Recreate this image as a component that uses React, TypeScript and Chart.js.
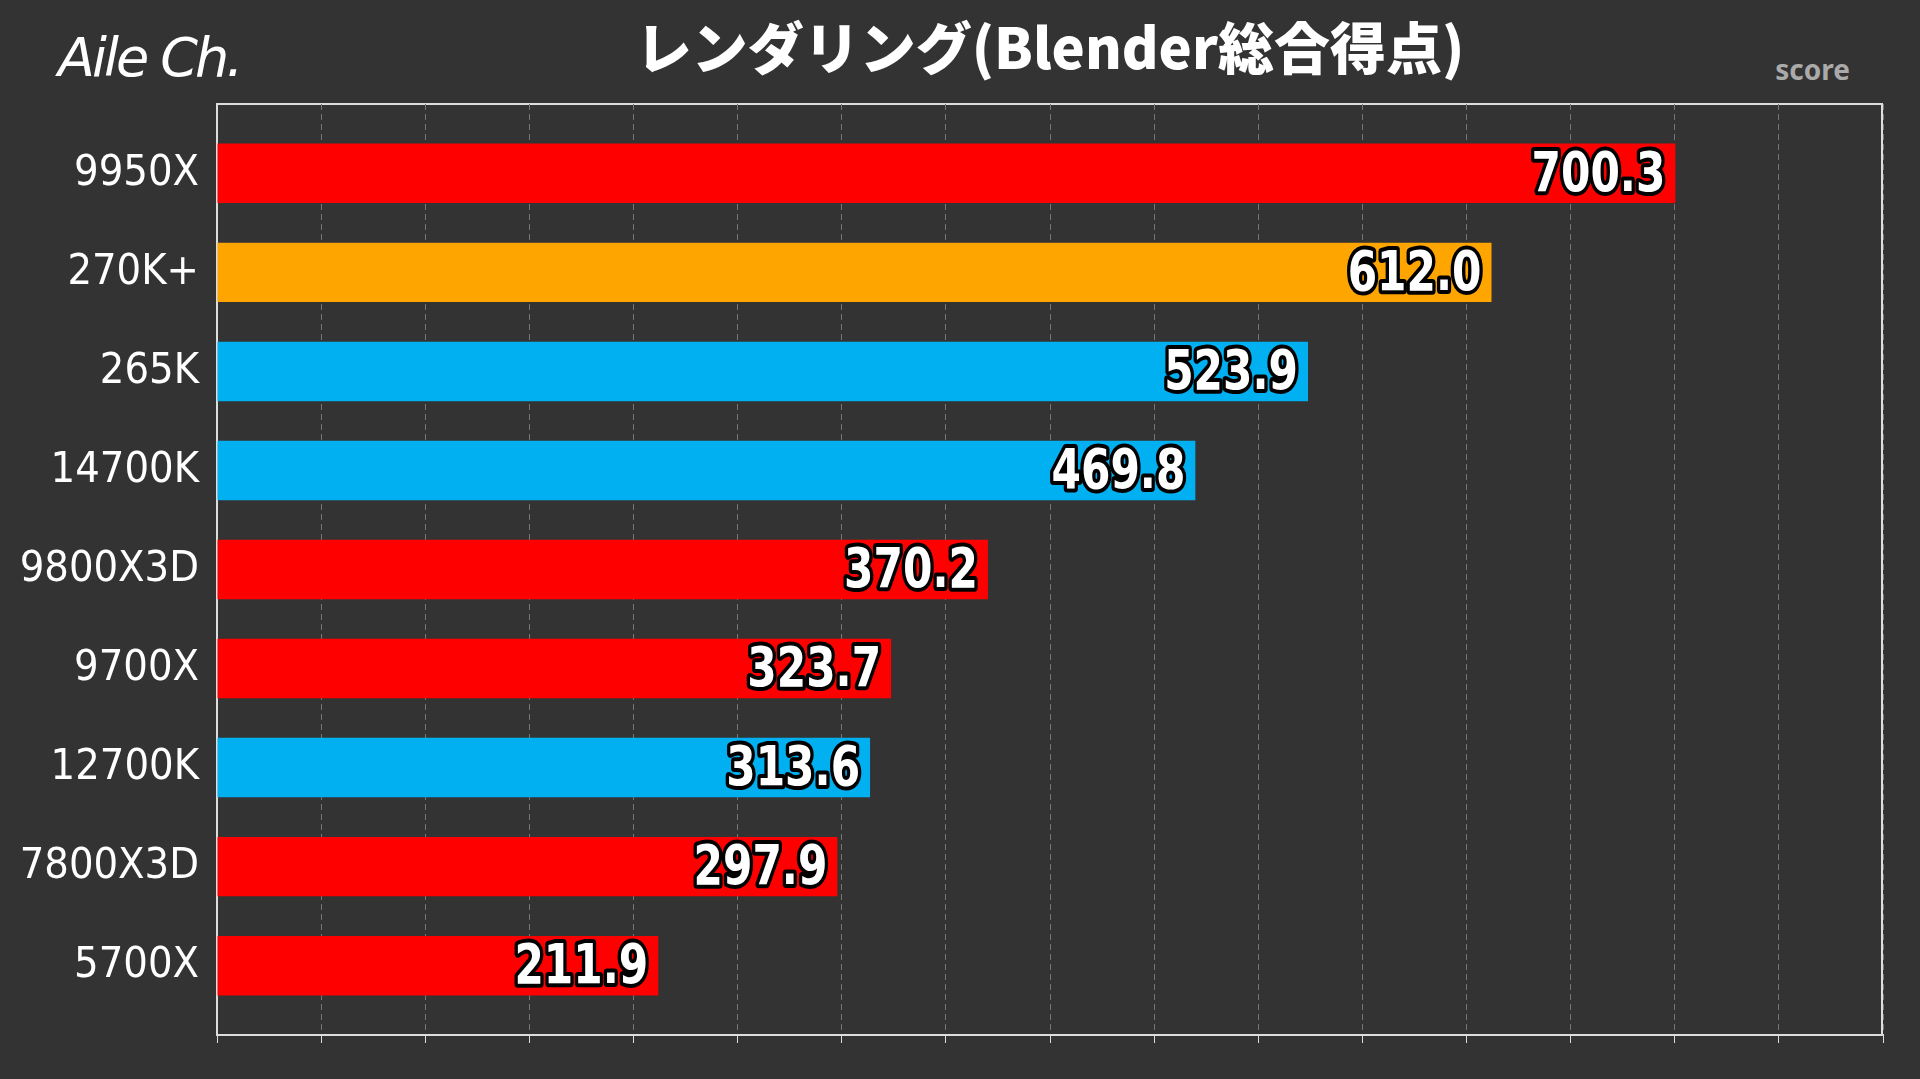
import React, { useEffect, useRef } from "react";
import { Chart, registerables } from "chart.js";
Chart.register(...registerables);

const categories = ["9950X", "270K+", "265K", "14700K", "9800X3D", "9700X", "12700K", "7800X3D", "5700X"];
const values = [700.3, 612.0, 523.9, 469.8, 370.2, 323.7, 313.6, 297.9, 211.9];
const colors = ["#ff0000", "#ffa500", "#00b0f0", "#00b0f0", "#ff0000", "#ff0000", "#00b0f0", "#ff0000", "#ff0000"];
const xMax = 800;
const xStep = 50;

const valueLabels = {
  id: "valueLabels",
  afterDatasetsDraw(chart: any) {
    const ctx = chart.ctx;
    const meta = chart.getDatasetMeta(0);
    ctx.save();
    ctx.font = "bold 56px 'DejaVu Sans Condensed', 'DejaVu Sans'";
    ctx.textAlign = "right";
    ctx.textBaseline = "middle";
    ctx.lineJoin = "round";
    meta.data.forEach((bar: any, i: number) => {
      const t = values[i].toFixed(1);
      ctx.save();
      ctx.translate(bar.x - 10, bar.y + 3);
      ctx.scale(0.84, 1);
      ctx.lineWidth = 8;
      ctx.strokeStyle = "#000";
      ctx.strokeText(t, 0, 0);
      ctx.fillStyle = "#fff";
      ctx.fillText(t, 0, 0);
      ctx.restore();
    });
    ctx.restore();
  },
};

export default function App() {
  const ref = useRef<HTMLCanvasElement>(null);
  useEffect(() => {
    const chart = new Chart(ref.current!, {
      type: "bar",
      data: {
        datasets: [{
          data: values.map((v, i) => ({ x: v, y: i })),
          backgroundColor: colors, barPercentage: 0.6, categoryPercentage: 1,
        }],
      },
      plugins: [valueLabels],
      options: {
        indexAxis: "y",
        animation: false,
        responsive: false,
        layout: { padding: { left: 7, right: 37, top: 104, bottom: 36 } },
        plugins: { legend: { display: false }, tooltip: { enabled: false } },
        scales: {
          x: {
            type: "linear",
            min: 0,
            max: xMax,
            ticks: { stepSize: xStep, display: false },
            grid: { color: "#777", tickColor: "#ddd", tickLength: 8, lineWidth: 1 },
            border: { color: "#ddd", width: 2 },
            afterFit: (s: any) => { s.height = 8; },
          },
          y: {
            type: "linear",
            reverse: true,
            offset: false,
            min: -0.7,
            max: 8.7,
            afterBuildTicks: (s: any) => { s.ticks = categories.map((_, i) => ({ value: i })); },
            ticks: {
              color: "#fff",
              font: { size: 43, family: "'DejaVu Sans Condensed', 'DejaVu Sans'" },
              padding: 10,
              callback: (v: any) => categories[v] ?? "",
            },
            grid: { display: false },
            border: { color: "#ddd", width: 2 },
            afterFit: (s: any) => { s.width = 210; },
          },
        },
      },
    } as any);
    (chart.options.scales as any).x.grid.borderDash = [6, 4];
    (chart.options.scales as any).x.border.dash = [6, 4];
    chart.update();
    return () => chart.destroy();
  }, []);
  return (
    <div style={{ position: "fixed", left: 0, top: 0, width: 1920, height: 1079, background: "#333333", overflow: "hidden" }}>
      <div style={{ position: "absolute", left: 58, top: 26, color: "#fff", fontSize: 54, fontFamily: "'DejaVu Sans'", fontStyle: "italic", fontWeight: 300, letterSpacing: -3 }}>Aile Ch.</div>
      <div style={{ position: "absolute", left: 0, width: 2100, top: 4, textAlign: "center", color: "#fff", fontSize: 56, fontWeight: 900, fontFamily: "'Noto Sans CJK JP'" }}>レンダリング(Blender総合得点)</div>
      <div style={{ position: "absolute", right: 70, top: 50, color: "#aaa", fontSize: 28, fontWeight: 700, fontFamily: "'Noto Sans'" }}>score</div>
      <div style={{ position: "absolute", left: 217, top: 103, width: 1666, height: 931, borderTop: "2px solid #ddd", borderRight: "2px solid #ddd", boxSizing: "border-box", pointerEvents: "none" }} />
      <canvas ref={ref} width={1920} height={1079} style={{ position: "absolute", left: 0, top: 0 }} />
    </div>
  );
}
